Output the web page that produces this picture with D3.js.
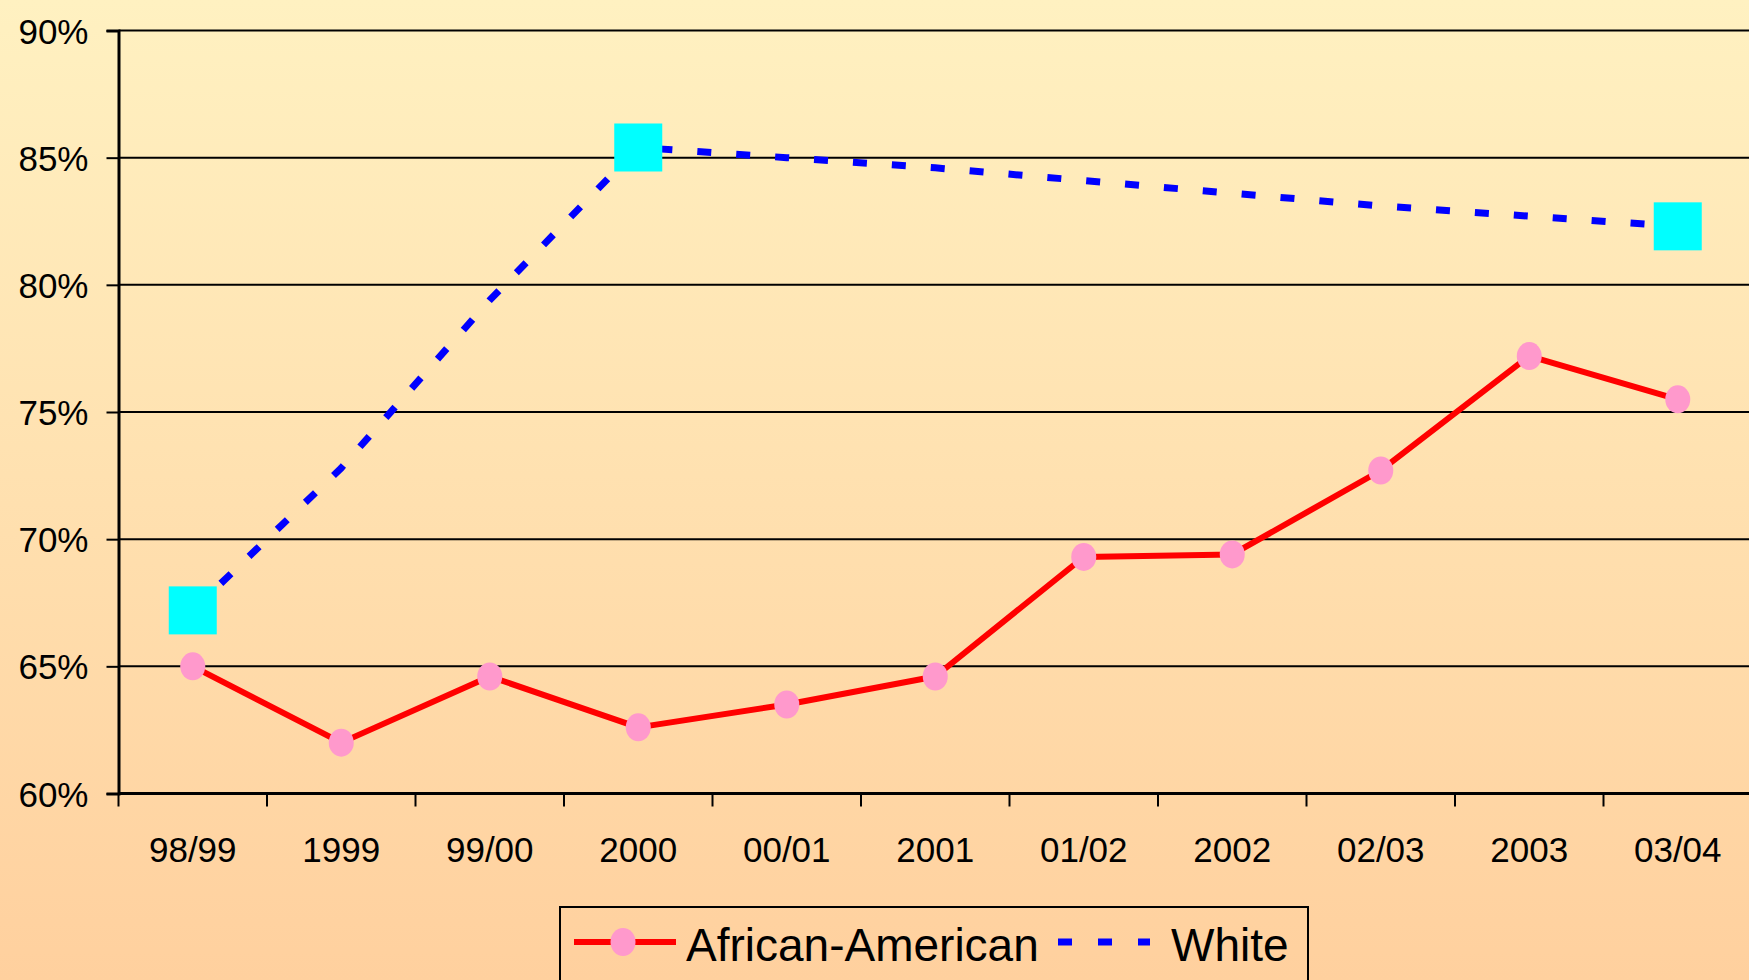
<!DOCTYPE html>
<html>
<head>
<meta charset="utf-8">
<script src="https://cdn.jsdelivr.net/npm/d3@7"></script>
<style>
  html, body { margin: 0; padding: 0; overflow: hidden; }
  svg { display: block; font-family: Arial, "Liberation Sans", sans-serif; }
</style>
</head>
<body>
<svg id="chart" width="1749" height="980"></svg>
<script>
'use strict';

// categories along the x axis
var categories = ['98/99', '1999', '99/00', '2000', '00/01', '2001',
                  '01/02', '2002', '02/03', '2003', '03/04'];

// percentages
var africanAmerican = [65.0, 62.0, 64.6, 62.6, 63.5, 64.6, 69.3, 69.4, 72.7, 77.2, 75.5];
var white = [67.2, 72.8, 79.4, 85.4, 85.0, 84.6, 84.1, 83.6, 83.1, 82.7, 82.3];

// only these White points carry a marker in the original
var whiteMarked = ['98/99', '2000', '03/04'];

var yTicks = [60, 65, 70, 75, 80, 85, 90];

var width = 1749,
    height = 980,
    margin = {top: 30.5, right: -3, bottom: 186.5, left: 118.5};

var svg = d3.select('#chart');

// background gradient
var defs = svg.append('defs');
var grad = defs.append('linearGradient')
    .attr('id', 'bg')
    .attr('x1', 0).attr('y1', 0).attr('x2', 0).attr('y2', 1);
grad.append('stop').attr('offset', '0%').attr('stop-color', '#fff1c1');
grad.append('stop').attr('offset', '100%').attr('stop-color', '#ffd09e');

svg.append('rect')
    .attr('width', width)
    .attr('height', height)
    .attr('fill', 'url(#bg)');

var x = d3.scaleBand()
    .domain(categories)
    .range([margin.left, width - margin.right])
    .padding(0);

var y = d3.scaleLinear()
    .domain([60, 90])
    .range([height - margin.bottom, margin.top]);

var cx = function (c) { return x(c) + x.bandwidth() / 2; };

// horizontal grid lines
svg.append('g')
    .selectAll('line')
    .data(yTicks.slice(1))
    .join('line')
    .attr('x1', margin.left)
    .attr('x2', width)
    .attr('y1', function (d) { return y(d); })
    .attr('y2', function (d) { return y(d); })
    .attr('stroke', '#000')
    .attr('stroke-width', 2);

// y axis
var yAxis = svg.append('g')
    .attr('transform', 'translate(' + margin.left + ',0)')
    .call(d3.axisLeft(y)
      .tickValues(yTicks)
      .tickSize(12)
      .tickPadding(18)
      .tickFormat(function (d) { return d + '%'; }));

yAxis.select('.domain').attr('stroke-width', 3);
yAxis.selectAll('.tick line').attr('stroke-width', 2);
yAxis.selectAll('.tick text')
    .attr('font-size', 35)
    .attr('font-family', 'Arial, "Liberation Sans", sans-serif')
    .attr('fill', '#000')
    .attr('dy', '0.36em');

// x axis: ticks between categories, labels at centres
var xAxisG = svg.append('g')
    .attr('transform', 'translate(0,' + y(60) + ')');

xAxisG.append('line')
    .attr('x1', margin.left)
    .attr('x2', width)
    .attr('y1', 0)
    .attr('y2', 0)
    .attr('stroke', '#000')
    .attr('stroke-width', 3);

xAxisG.selectAll('line.tick')
    .data(categories)
    .join('line')
    .attr('class', 'tick')
    .attr('x1', function (d) { return x(d); })
    .attr('x2', function (d) { return x(d); })
    .attr('y1', 0)
    .attr('y2', 13)
    .attr('stroke', '#000')
    .attr('stroke-width', 2);

xAxisG.selectAll('text')
    .data(categories)
    .join('text')
    .attr('x', cx)
    .attr('y', 68)
    .attr('text-anchor', 'middle')
    .attr('font-size', 35)
    .attr('fill', '#000')
    .text(function (d) { return d; });

var line = d3.line()
    .x(function (d) { return cx(d.cat); })
    .y(function (d) { return y(d.v); });

var aaData = categories.map(function (c, i) { return {cat: c, v: africanAmerican[i]}; });
var whData = categories.map(function (c, i) { return {cat: c, v: white[i]}; });

// White series: dashed blue line with cyan squares
svg.append('path')
    .datum(whData)
    .attr('d', line)
    .attr('fill', 'none')
    .attr('stroke', '#0000ff')
    .attr('stroke-width', 7)
    .attr('stroke-dasharray', '14,25');

svg.append('g')
    .selectAll('rect')
    .data(whData.filter(function (d) { return whiteMarked.indexOf(d.cat) >= 0; }))
    .join('rect')
    .attr('x', function (d) { return cx(d.cat) - 24; })
    .attr('y', function (d) { return y(d.v) - 24; })
    .attr('width', 48)
    .attr('height', 48)
    .attr('fill', '#00ffff');

// African-American series: red line with pink dots
svg.append('path')
    .datum(aaData)
    .attr('d', line)
    .attr('fill', 'none')
    .attr('stroke', '#ff0000')
    .attr('stroke-width', 6)
    .attr('stroke-linejoin', 'round');

svg.append('g')
    .selectAll('ellipse')
    .data(aaData)
    .join('ellipse')
    .attr('cx', function (d) { return cx(d.cat); })
    .attr('cy', function (d) { return y(d.v); })
    .attr('rx', 12.5)
    .attr('ry', 14)
    .attr('fill', '#ff99cc');

// legend
var legend = svg.append('g');
legend.append('rect')
    .attr('x', 560)
    .attr('y', 907)
    .attr('width', 748)
    .attr('height', 100)
    .attr('fill', 'none')
    .attr('stroke', '#000')
    .attr('stroke-width', 2);

legend.append('line')
    .attr('x1', 574).attr('x2', 676)
    .attr('y1', 942).attr('y2', 942)
    .attr('stroke', '#ff0000')
    .attr('stroke-width', 6);
legend.append('ellipse')
    .attr('cx', 623).attr('cy', 942)
    .attr('rx', 12.5).attr('ry', 14)
    .attr('fill', '#ff99cc');
legend.append('text')
    .attr('x', 686).attr('y', 961)
    .attr('font-size', 46)
    .attr('fill', '#000')
    .text('African-American');

legend.append('line')
    .attr('x1', 1058).attr('x2', 1150)
    .attr('y1', 942).attr('y2', 942)
    .attr('stroke', '#0000ff')
    .attr('stroke-width', 7)
    .attr('stroke-dasharray', '14,26');
legend.append('text')
    .attr('x', 1171).attr('y', 961)
    .attr('font-size', 46)
    .attr('fill', '#000')
    .text('White');
</script>
</body>
